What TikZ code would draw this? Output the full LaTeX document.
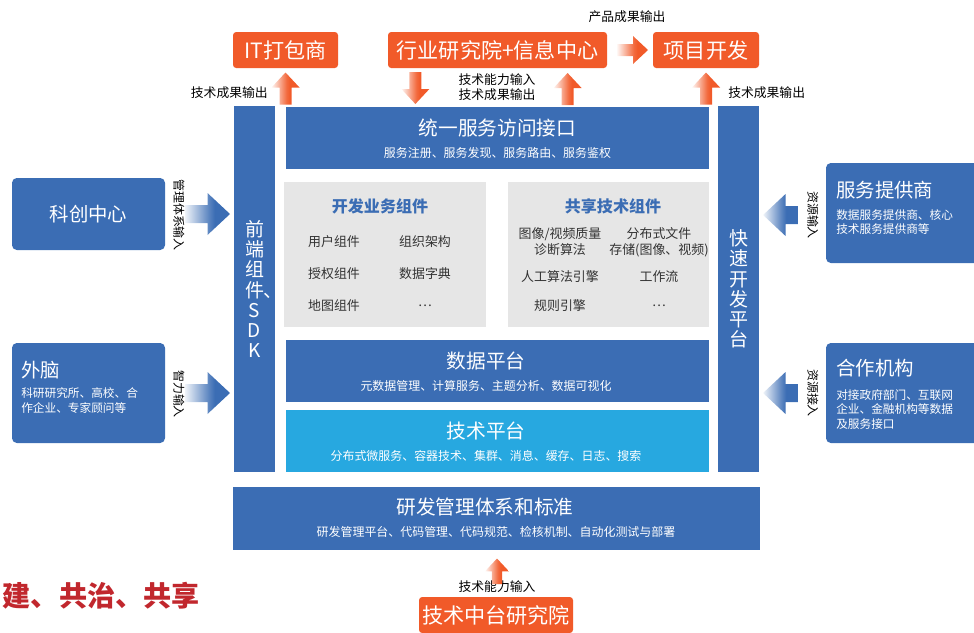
\documentclass[tikz,border=0pt]{standalone}
\usepackage{fontspec}
\setmainfont{Noto Sans CJK SC}
\usetikzlibrary{calc}

\definecolor{blueC}{HTML}{3B6DB4}
\definecolor{techC}{HTML}{27A8E0}
\definecolor{orangeC}{HTML}{F15A29}
\definecolor{grayC}{HTML}{E6E6E6}
\definecolor{redC}{HTML}{C1272D}
\definecolor{itemC}{HTML}{333333}

\newcommand\px{0.025cm}
\pgfdeclarehorizontalshading{ofade}{100bp}{color(0bp)=(orangeC!5); color(25bp)=(orangeC!5); color(52bp)=(orangeC!90); color(58bp)=(orangeC); color(100bp)=(orangeC)}
\pgfdeclarehorizontalshading{bfade}{100bp}{color(0bp)=(blueC!8); color(25bp)=(blueC!8); color(52bp)=(blueC!85); color(58bp)=(blueC); color(100bp)=(blueC)}

\tikzset{
    box/.style={inner sep=0pt, outer sep=0pt},
    orangebox/.style={box, fill=orangeC, rounded corners=0.8mm, text=white, minimum height=36*\px, font=\fontsize{15pt}{18pt}\selectfont},
    bluebox/.style={box, fill=blueC, text=white},
    sidebox/.style={bluebox, rounded corners=1.2mm},
    graybox/.style={box, fill=grayC},
    title/.style={inner sep=0pt, text=white, font=\fontsize{14pt}{17pt}\selectfont},
    sub/.style={inner sep=0pt, text=white, font=\fontsize{8.5pt}{10pt}\selectfont},
    sidetitle/.style={inner sep=0pt, anchor=west, text=white, font=\fontsize{13.8pt}{16pt}\selectfont},
    sidesub/.style={inner sep=0pt, anchor=west, align=left, text=white, font=\fontsize{8.3pt}{10.4pt}\selectfont},
    vtext/.style={align=center, text=white, font=\fontsize{13.5pt}{14.4pt}\selectfont},
    grptitle/.style={inner sep=0pt, text=blueC, font=\bfseries\fontsize{11.4pt}{13pt}\selectfont},
    item/.style={inner sep=0pt, align=center, text=itemC, font=\fontsize{9.2pt}{11.4pt}\selectfont},
    lbl/.style={inner sep=0pt, align=center, text=black, font=\fontsize{9.1pt}{10.7pt}\selectfont},
    vlbl/.style={lbl, rotate=-90, font=\fontsize{8.5pt}{10pt}\selectfont},
    slogan/.style={inner sep=0pt, text=redC, font=\bfseries\fontsize{20pt}{24pt}\selectfont},
    pics/blockarrow/.style 2 args={code={
        \shade[shading=#1] (0,-6) -- (#2-15,-6) -- (#2-15,-14) -- (#2,0) -- (#2-15,14) -- (#2-15,6) -- (0,6) -- cycle;
    }},
}

\begin{document}
\begin{tikzpicture}[x=\px, y=-\px]
    \clip (0,0) rectangle (974,632);

    % top row
    \node[orangebox, minimum width=105*\px] (itpack) at (285.5,50) {IT打包商};
    \node[orangebox, minimum width=219*\px] (inst) at (497.5,50) {行业研究院+信息中心};
    \node[orangebox, minimum width=106*\px] (proj) at (706,50) {项目开发};
    \node[lbl] (prodout) at (627,17) {产品成果输出};

    % side bars
    \node[bluebox, vtext, minimum width=41*\px, minimum height=366*\px] (sdk) at (254.5,289) {前\\端\\组\\件\rlap{、}\\S\\D\\K};
    \node[bluebox, vtext, minimum width=41*\px, minimum height=366*\px] (rapid) at (738.5,289) {快\\速\\开\\发\\平\\台};

    % platform layers
    \foreach \name/\y/\col/\tx/\ttl/\sb in {api/137.5/blueC/497.5/统一服务访问接口/服务注册、服务发现、服务路由、服务鉴权,
        data/371/blueC/486/数据平台/元数据管理、计算服务、主题分析、数据可视化,
        tech/441/techC/486/技术平台/分布式微服务、容器技术、集群、消息、缓存、日志、搜索}{
        \node[bluebox, fill=\col, minimum width=423*\px, minimum height=62*\px] (\name) at (497.5,\y) {};
        \node[title] (\name-t) at (\tx,\y-10) {\ttl};
        \node[sub] (\name-s) at (\tx,\y+15) {\sb};
    }

    % component boxes
    \node[graybox, minimum width=202*\px, minimum height=145*\px] (bizc) at (385,254.5) {};
    \node[graybox, minimum width=201*\px, minimum height=145*\px] (techc) at (608.5,254.5) {};
    \node[grptitle] (bizc-t) at (380,206) {开发业务组件};
    \node[grptitle] (techc-t) at (613,206) {共享技术组件};
    \foreach \x/\y/\t [count=\i] in {334/242/用户组件, 425/242/组织架构, 334/274/授权组件, 425/274/数据字典, 334/306/地图组件, 425/306/\ldots}
        \node[item] (biz\i) at (\x,\y) {\t};
    \foreach \x/\y/\t [count=\i] in {560/242/{图像/视频质量\\诊断算法}, 659/242/{分布式文件\\存储(图像、视频)}, 560/277/人工算法引擎, 659/277/工作流, 560/306/规则引擎, 659/306/\ldots}
        \node[item] (share\i) at (\x,\y) {\t};

    % management base
    \node[bluebox, minimum width=527*\px, minimum height=63*\px] (rnd) at (496.5,518.5) {};
    \node[title] (rnd-t) at (485,507) {研发管理体系和标准};
    \node[sub] (rnd-s) at (496,532) {研发管理平台、代码管理、代码规范、检核机制、自动化测试与部署};
    \node[orangebox, minimum width=154*\px] (lab) at (496,615) {技术中台研究院};
    \node[lbl] (labin) at (497,587) {技术能力输入};

    % left partners
    \node[sidebox, minimum width=153*\px, minimum height=72*\px, font=\fontsize{13.8pt}{16pt}\selectfont] (kc) at (88.5,214) {科创中心};
    \node[sidebox, minimum width=153*\px, minimum height=100*\px] (brain) at (88.5,393) {};
    \node[sidetitle] (brain-t) at (21,370) {外脑};
    \node[sidesub] (brain-s) at (21,400.5) {科研研究所、高校、合\\作企业、专家顾问等};
    \node[vlbl] (kcin) at (179,215) {管理体系输入};
    \node[vlbl] (brainin) at (179,394) {智力输入};

    % right partners
    \node[sidebox, minimum width=160*\px, minimum height=100*\px] (sp) at (906,213) {};
    \node[sidetitle] (sp-t) at (836,190) {服务提供商};
    \node[sidesub] (sp-s) at (836,222) {数据服务提供商、核心\\技术服务提供商等};
    \node[sidebox, minimum width=160*\px, minimum height=100*\px] (coop) at (906,393) {};
    \node[sidetitle] (coop-t) at (836,368) {合作机构};
    \node[sidesub] (coop-s) at (836,409.5) {对接政府部门、互联网\\企业、金融机构等数据\\及服务接口};
    \node[vlbl] (spin) at (813,215) {资源输入};
    \node[vlbl] (coopin) at (813,393) {资源接入};

    % labels
    \node[lbl, anchor=east] (outl) at (268,93) {技术成果输出};
    \node[lbl] (inout) at (497,87.5) {技术能力输入\\技术成果输出};
    \node[lbl, anchor=west] (outr) at (728,93) {技术成果输出};
    \node[slogan, anchor=east] (motto) at (200,596) {建、共治、共享};

    % block arrows
    \pic[rotate=90] at ($(itpack.south |- api.north)+(0,-2)$) {blockarrow={ofade}{32}};
    \pic[rotate=90] at ($(proj.south |- api.north)+(0,-2)$) {blockarrow={ofade}{32}};
    \pic[rotate=90] at ($(inst.south west)!.82!(inst.south east)+(0,37)$) {blockarrow={ofade}{32}};
    \pic[rotate=-90] at ($(inst.south west)!.125!(inst.south east)+(0,4)$) {blockarrow={ofade}{32}};
    \pic at ($(inst.east)+(10,0)$) {blockarrow={ofade}{31}};
    \pic[rotate=90, scale=.85] at ($(rnd.south)+(.5,34)$) {blockarrow={ofade}{30}};
    \pic[scale=1.5] at ($(kc.east)+(20,0)$) {blockarrow={bfade}{30}};
    \pic[scale=1.5] at ($(brain.east)+(20,0)$) {blockarrow={bfade}{30}};
    \pic[rotate=180, scale=1.5] at ($(sp.west)+(-28,2)$) {blockarrow={bfade}{23.3}};
    \pic[rotate=180, scale=1.5] at ($(coop.west)+(-28,0)$) {blockarrow={bfade}{23.3}};
\end{tikzpicture}
\end{document}
